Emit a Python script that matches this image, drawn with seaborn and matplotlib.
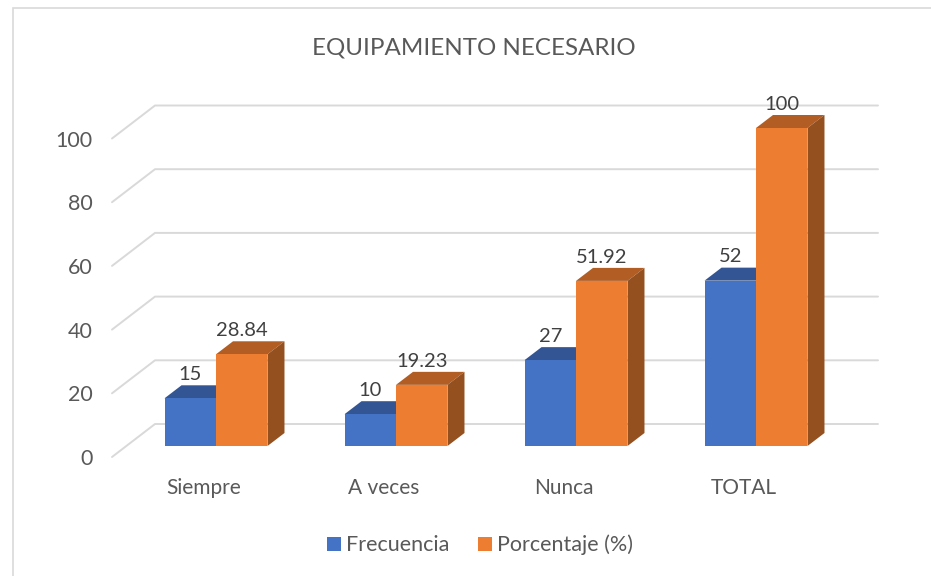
import matplotlib
matplotlib.use("Agg")
import matplotlib.pyplot as plt
from matplotlib.patches import Polygon, Rectangle
from matplotlib.transforms import ScaledTranslation, IdentityTransform
import pandas as pd
import seaborn as sns

categories = ["Siempre", "A veces", "Nunca", "TOTAL"]
frecuencia = [15, 10, 27, 52]
porcentaje = [28.84, 19.23, 51.92, 100]
freq_labels = ["15", "10", "27", "52"]
pct_labels = ["28.84", "19.23", "51.92", "100"]
y_ticks = [0, 20, 40, 60, 80, 100]
series_names = ["Frecuencia", "Porcentaje (%)"]
front_colors = ["#4472C4", "#ED7D31"]
top_colors = ["#335593", "#B15D24"]
side_colors = ["#2C4B82", "#95501F"]

W, H = 931, 576
sns.set_theme(style="white")
plt.rcParams["font.family"] = ["Lato", "DejaVu Sans"]
TEXT = "#595959"
GRID = "#D9D9D9"
fig = plt.figure(figsize=(W / 100, H / 100), dpi=100)

def pos(l, r, top, bottom):
    return [l / W, 1 - bottom / H, (r - l) / W, (bottom - top) / H]

# chart border
fig.add_artist(Rectangle((12.5, -5), W, H - 8 + 5, transform=IdentityTransform(),
                         fill=False, ec=GRID, lw=1.2))

# wall / floor frame
fr = fig.add_axes(pos(112, 878, 138.5, 457))
fr.set_xlim(0, 766)
fr.set_ylim(0, 100)
fr.patch.set_alpha(0)
sns.despine(ax=fr, left=True, bottom=True)
back = 33 / 3.185
for v in y_ticks:
    fr.plot([0, 43, 766], [v, v + back, v + back], color=GRID, lw=1.4, clip_on=False, zorder=1)
fr.set_xticks([])
fr.set_yticks(y_ticks)
fr.tick_params(axis="y", length=0, pad=14, labelsize=15.5, labelcolor=TEXT)

# bars
ax = fig.add_axes(pos(126, 846, 128, 446))
ax.patch.set_alpha(0)
df = pd.DataFrame({
    "cat": categories * 2,
    "serie": [series_names[0]] * 4 + [series_names[1]] * 4,
    "valor": frecuencia + porcentaje,
})
sns.barplot(data=df, x="cat", y="valor", hue="serie", order=categories,
            hue_order=series_names, palette=front_colors, width=0.572, gap=0,
            saturation=1, ax=ax, legend=False, zorder=3)
ax.set_xlim(-0.5, 3.5)
ax.set_ylim(0, 100)
ax.set_xlabel("")
ax.set_ylabel("")
ax.set_yticks([])
sns.despine(ax=ax, left=True, bottom=True)
ax.tick_params(axis="x", length=0, pad=23, labelsize=15, labelcolor=TEXT)
shift = ScaledTranslation(-12 / 100, 0, fig.dpi_scale_trans)
for lab in ax.get_xticklabels():
    lab.set_transform(lab.get_transform() + shift)

# 3-D faces derived from each bar's own extent
fig.canvas.draw()
DX, DY = 17, 13
for s, cont in enumerate(ax.containers):
    for bar in cont:
        bar.set_edgecolor("none")
        bar.set_clip_on(False)
        (x0, y0), (x1, y1) = ax.transData.transform(
            [(bar.get_x(), bar.get_y()), (bar.get_x() + bar.get_width(), bar.get_y() + bar.get_height())])
        z = 2 + s
        for pts, col in (
            ([(x0, y1), (x1, y1), (x1 + DX, y1 + DY), (x0 + DX, y1 + DY)], top_colors[s]),
            ([(x1, y0), (x1, y1), (x1 + DX, y1 + DY), (x1 + DX, y0 + DY)], side_colors[s]),
        ):
            poly = Polygon(pts, closed=True, fc=col, ec="none",
                           transform=IdentityTransform(), zorder=z)
            ax.add_artist(poly)
            poly.set_clip_on(False)
        bar.set_zorder(3 + s)

ax.bar_label(ax.containers[0], labels=freq_labels, padding=11, fontsize=14.5, color="#404040", zorder=6)
ax.bar_label(ax.containers[1], labels=pct_labels, padding=11, fontsize=14.5, color="#404040", zorder=6)

fig.text(473.5 / W, 1 - 48 / H, "EQUIPAMIENTO NECESARIO", ha="center", va="center",
         fontsize=17.4, color=TEXT)

handles = [Rectangle((0, 0), 1, 1, fc=c, ec="none") for c in front_colors]
fig.legend(handles, series_names, loc="center", bbox_to_anchor=(480 / W, 1 - 545 / H),
           ncol=2, frameon=False, fontsize=15.5, labelcolor=TEXT, handlelength=0.65,
           handleheight=0.65, handletextpad=0.25, columnspacing=1.3, borderpad=0)

fig.savefig("out.png", dpi=100)
